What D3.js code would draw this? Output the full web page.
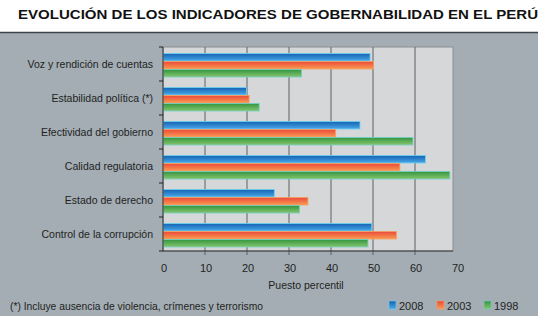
<!DOCTYPE html>
<html>
<head>
<meta charset="utf-8">
<script src="https://cdn.jsdelivr.net/npm/d3@7"></script>
<style>
  body { margin: 0; background: #fff; }
  text { font-family: "Liberation Sans Narrow", "Liberation Sans", Arial, sans-serif; }
</style>
</head>
<body>
<div class="viewbox"></div>
<script>
// indicadores (de arriba hacia abajo)
const categories = ["Voz y rendición de cuentas", "Estabilidad política (*)", "Efectividad del gobierno",
  "Calidad regulatoria", "Estado de derecho", "Control de la corrupción"]
const years = ["2008", "2003", "1998"]
const values2008 = [49.3, 19.9, 46.9, 62.5, 26.5, 49.7]
const values2003 = [50.1, 20.5, 41.1, 56.4, 34.5, 55.6]
const values1998 = [33.0, 22.9, 59.5, 68.3, 32.5, 48.8]
const xTicks = [0, 10, 20, 30, 40, 50, 60, 70]

const series = [values2008, values2003, values1998]
// colores: arriba oscuro, abajo claro
const grads = [["#1462b3", "#4aa8e8"], ["#ec4a3a", "#f89a52"], ["#33953f", "#86c56e"]]
const edge = ["#6fd3f2", "#f7a061", "#72d0c8"]

const svg_width = 544, svg_height = 319
const plotLeft = 163, plotTop = 47, plotW = 290, plotH = 204

let svg = d3.select(".viewbox").append("svg")
  .attr("width", svg_width).attr("height", svg_height)

let defs = svg.append("defs")
grads.forEach((g, i) => {
  let lg = defs.append("linearGradient").attr("id", "g" + i)
    .attr("x1", 0).attr("y1", 0).attr("x2", 0).attr("y2", 1)
  lg.append("stop").attr("offset", "0%").attr("stop-color", g[0])
  lg.append("stop").attr("offset", "100%").attr("stop-color", g[1])
})

// titulo
svg.append("text")
  .attr("x", 278).attr("y", 19)
  .attr("text-anchor", "middle")
  .style("font-family", "'Liberation Sans', Arial, sans-serif")
  .style("font-weight", "bold").style("font-size", "13px").style("fill", "#111")
  .attr("textLength", 520).attr("lengthAdjust", "spacingAndGlyphs")
  .text("EVOLUCIÓN DE LOS INDICADORES DE GOBERNABILIDAD EN EL PERÚ")

// panel gris
svg.append("rect").attr("x", 0).attr("y", 32).attr("width", 538).attr("height", 284).attr("fill", "#a3adb3")
svg.append("line").attr("x1", 0).attr("x2", 538).attr("y1", 32.5).attr("y2", 32.5)
  .attr("stroke", "#3d4348").attr("stroke-width", 1.5)

let x = d3.scaleLinear().domain([0, 70]).range([plotLeft, 457])
let y = d3.scaleBand().domain(categories).range([plotTop, plotTop + plotH])
let yy = d3.scaleBand().domain(years).range([6, 30])

svg.append("rect").attr("x", plotLeft).attr("y", plotTop).attr("width", plotW).attr("height", plotH)
  .attr("fill", "#d5d7d9").attr("stroke", "#8a9094")

// lineas de rejilla
svg.selectAll(".grid").data(xTicks.slice(1, -1)).enter().append("line")
  .attr("x1", d => x(d)).attr("x2", d => x(d))
  .attr("y1", plotTop).attr("y2", plotTop + plotH + 4)
  .attr("stroke", "#5e6266").attr("stroke-width", 1)

// barras
categories.forEach((c, ci) => {
  series.forEach((s, si) => {
    svg.append("rect")
      .attr("x", x(0))
      .attr("y", y(c) + yy(years[si]) + 0.5)
      .attr("width", x(s[ci]) - x(0))
      .attr("height", yy.bandwidth() - 0.5)
      .attr("fill", "url(#g" + si + ")")
      .attr("stroke", edge[si]).attr("stroke-width", 0.8)
  })
})

// eje y
let yAxis = svg.append("g").attr("transform", `translate(${plotLeft},0)`)
yAxis.append("line").attr("x1", 0).attr("x2", 0).attr("y1", plotTop).attr("y2", plotTop + plotH)
  .attr("stroke", "#333")
yAxis.selectAll(".tk").data(d3.range(categories.length + 1)).enter().append("line")
  .attr("x1", -4).attr("x2", 0)
  .attr("y1", i => plotTop + i * y.step()).attr("y2", i => plotTop + i * y.step())
  .attr("stroke", "#222")
yAxis.selectAll(".lbl").data(categories).enter().append("text")
  .attr("x", -10).attr("y", d => y(d) + 18.5)
  .attr("text-anchor", "end").attr("dominant-baseline", "middle")
  .style("font-size", "10.5px").style("fill", "#1f1f1f")
  .text(d => d)

// eje x
svg.append("line").attr("x1", plotLeft).attr("x2", plotLeft + plotW).attr("y1", plotTop + plotH).attr("y2", plotTop + plotH)
  .attr("stroke", "#333")
svg.selectAll(".xl").data(xTicks).enter().append("text")
  .attr("x", d => x(d) + 1).attr("y", 272)
  .attr("text-anchor", "middle")
  .style("font-size", "11px").style("fill", "#1f1f1f")
  .text(d => d)
svg.append("text").attr("x", 306).attr("y", 289).attr("text-anchor", "middle")
  .style("font-size", "10.5px").style("fill", "#1f1f1f").text("Puesto percentil")

// nota
svg.append("text").attr("x", 10).attr("y", 310)
  .style("font-size", "10.3px").style("fill", "#1f1f1f")
  .text("(*) Incluye ausencia de violencia, crímenes y terrorismo")

// leyenda
let legX = [389, 437, 484]
years.forEach((yr, i) => {
  svg.append("rect").attr("x", legX[i]).attr("y", 301).attr("width", 7).attr("height", 8)
    .attr("fill", "url(#g" + i + ")").attr("stroke", edge[i]).attr("stroke-width", 0.6)
  svg.append("text").attr("x", legX[i] + 10).attr("y", 310)
    .style("font-size", "11px").style("fill", "#1f1f1f").text(yr)
})
</script>
</body>
</html>
